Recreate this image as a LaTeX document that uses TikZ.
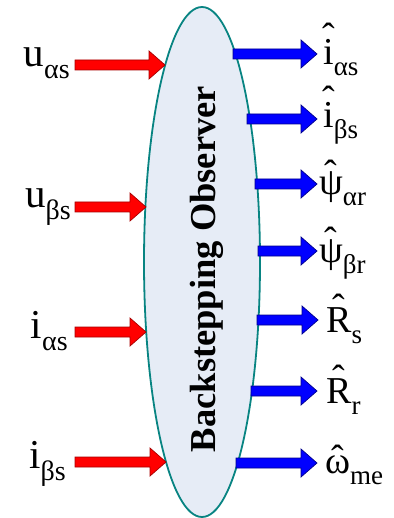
\documentclass[tikz,border=0pt]{standalone}
\usepackage{fontspec}
\setmainfont{Liberation Serif}
\usetikzlibrary{shapes.geometric,calc}
\definecolor{ellfill}{HTML}{E6ECF6}
\definecolor{elldraw}{HTML}{088482}
\newcommand\lsub[1]{\raisebox{-12pt}{\fontsize{28}{28}\selectfont #1}}
\newcommand\rsub[1]{\raisebox{-11pt}{\fontsize{27}{27}\selectfont #1}}
\newcommand\hatted[2]{\ooalign{#2\cr\hidewidth\raisebox{#1}{\char"02C6}\hidewidth\cr}}
\newcommand\fatarrow[3]{%
  \path[#1] let \p1=(#2), \p2=(#3) in
    (\x1,\y1+5pt) -- (\x2-16pt,\y1+5pt) -- (\x2-16pt,\y1+14pt) -- (\x2,\y1)
    -- (\x2-16pt,\y1-14pt) -- (\x2-16pt,\y1-5pt) -- (\x1,\y1-5pt) -- cycle;}
\tikzset{
  inlabel/.style={anchor=base east, inner sep=0pt, font=\fontsize{41}{43}\selectfont},
  outlabel/.style={anchor=base west, inner sep=0pt, font=\fontsize{38}{40}\selectfont},
  redarrow/.style={fill=red, draw=red!65!black, line width=0.7pt, line join=miter},
  bluearrow/.style={fill=blue, draw=blue!55!black, line width=0.7pt, line join=miter},
  observer/.style={ellipse, draw=elldraw, fill=ellfill, line width=1.8pt,
    minimum width=116pt, minimum height=510pt, inner sep=0pt}
}
\begin{document}
\begin{tikzpicture}[x=1pt,y=-1pt]
\useasboundingbox (0,0) rectangle (393,518);
\node[observer] (obs) at (202,262) {};
\node[rotate=90, anchor=base, inner sep=0pt, font=\fontsize{36.5}{38}\selectfont\bfseries] (title) at (215,269) {Backstepping Observer};
% inputs
\node[inlabel] (in1) at (70,67) {u\lsub{αs}};
\node[inlabel] (in2) at (71,208) {u\lsub{βs}};
\node[inlabel] (in3) at (68,338) {i\lsub{αs}};
\node[inlabel] (in4) at (66,468) {i\lsub{βs}};
\coordinate (s1) at (75,65);  \coordinate (e1) at (165,65);
\coordinate (s2) at (75,207); \coordinate (e2) at (146,207);
\coordinate (s3) at (75,332); \coordinate (e3) at (146,332);
\coordinate (s4) at (75,462); \coordinate (e4) at (166,462);
\fatarrow{redarrow}{s1}{e1}
\fatarrow{redarrow}{s2}{e2}
\fatarrow{redarrow}{s3}{e3}
\fatarrow{redarrow}{s4}{e4}
% outputs
\coordinate (t1) at (233,54);  \coordinate (f1) at (317,54);
\coordinate (t2) at (247,119); \coordinate (f2) at (317,119);
\coordinate (t3) at (255,184); \coordinate (f3) at (317,184);
\coordinate (t4) at (258,251); \coordinate (f4) at (317,251);
\coordinate (t5) at (257,320); \coordinate (f5) at (318,320);
\coordinate (t6) at (251,391); \coordinate (f6) at (317,391);
\coordinate (t7) at (236,463); \coordinate (f7) at (317,463);
\fatarrow{bluearrow}{t1}{f1}
\fatarrow{bluearrow}{t2}{f2}
\fatarrow{bluearrow}{t3}{f3}
\fatarrow{bluearrow}{t4}{f4}
\fatarrow{bluearrow}{t5}{f5}
\fatarrow{bluearrow}{t6}{f6}
\fatarrow{bluearrow}{t7}{f7}
\node[outlabel] (out1) at (323,65) {\hatted{0.42em}{i}\rsub{αs}};
\node[outlabel] (out2) at (323,128) {\hatted{0.42em}{i}\rsub{βs}};
\node[outlabel] (out3) at (319,195) {\hatted{0.22em}{ψ}\rsub{αr}};
\node[outlabel] (out4) at (319,262) {\hatted{0.22em}{ψ}\rsub{βr}};
\node[outlabel] (out5) at (326,332) {\hatted{0.3em}{R}\rsub{s}};
\node[outlabel] (out6) at (326,403) {\hatted{0.3em}{R}\rsub{r}};
\node[outlabel] (out7) at (325,473) {\hatted{0.05em}{ω}\rsub{me}};
\end{tikzpicture}
\end{document}
